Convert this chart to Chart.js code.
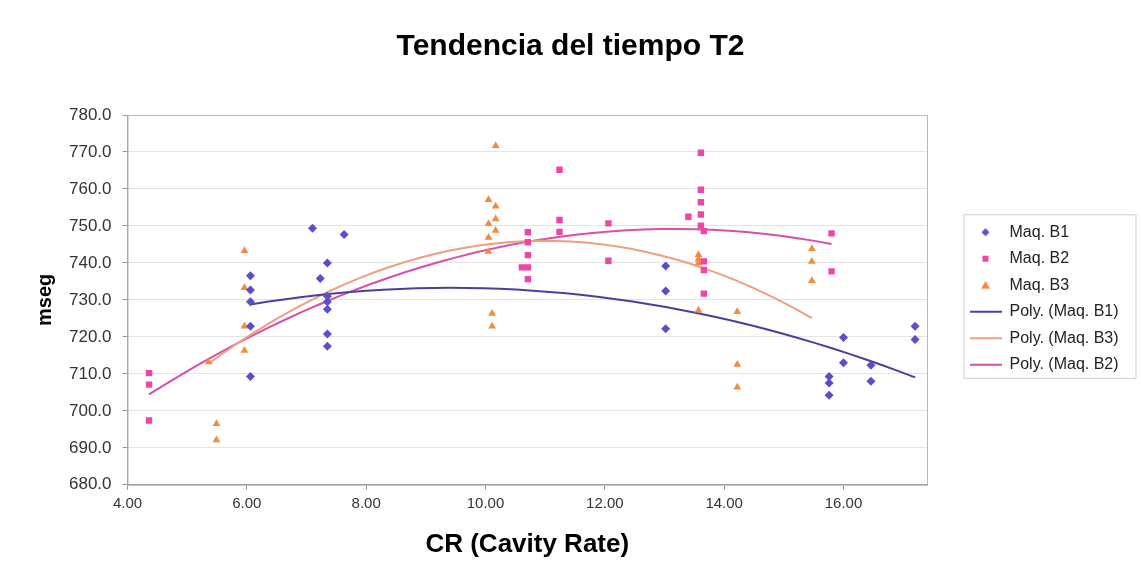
<!DOCTYPE html>
<html>
<head>
<meta charset="utf-8">
<title>Tendencia del tiempo T2</title>
<script src="https://cdn.jsdelivr.net/npm/chart.js@4.4.1/dist/chart.umd.min.js"></script>
<style>
  body { margin: 0; background: #fff; }
</style>
</head>
<body>
<canvas id="chart" width="1141" height="567"></canvas>
<script>
// values (CR -> mseg)
const b1Cr   = [6.06, 6.06, 6.06, 6.06, 6.06, 7.10, 7.63, 7.23, 7.35, 7.35, 7.35, 7.35, 7.35, 7.35,
                13.02, 13.02, 13.02, 15.76, 15.76, 15.76, 16.00, 16.00, 16.46, 16.46, 17.20, 17.20];
const b1Mseg = [736.5, 732.7, 729.5, 722.9, 709.3, 749.4, 747.7, 735.8, 740.0, 731.0, 729.5, 727.5, 720.8, 717.5,
                739.2, 732.4, 722.2, 709.3, 707.5, 704.2, 719.8, 713.0, 712.3, 708.0, 722.9, 719.3];

const b2Cr   = [4.36, 4.36, 4.36, 10.61, 10.71, 10.71, 10.71, 10.71, 10.71, 11.24, 11.24, 11.24,
                12.06, 12.06, 13.40, 13.61, 13.61, 13.61, 13.61, 13.61, 13.66, 13.66, 13.66, 13.66, 15.80, 15.80];
const b2Mseg = [710.2, 707.1, 697.4, 738.8, 748.3, 745.6, 742.1, 738.8, 735.6, 765.2, 751.6, 748.4,
                750.7, 740.6, 752.5, 769.8, 759.8, 756.4, 753.1, 750.1, 748.6, 740.4, 738.1, 731.7, 748.0, 737.7];

const b3Cr   = [5.36, 5.49, 5.49, 5.96, 5.96, 5.96, 5.96, 10.05, 10.05, 10.05, 10.05, 10.17, 10.17, 10.17, 10.17,
                10.11, 10.11, 13.57, 13.57, 13.57, 13.57, 14.22, 14.22, 14.22, 15.47, 15.47, 15.47];
const b3Mseg = [713.2, 696.5, 692.1, 743.3, 733.3, 722.9, 716.3, 757.1, 750.6, 746.9, 743.1, 771.7, 755.3, 751.9, 748.8,
                726.3, 722.9, 742.2, 741.0, 740.0, 727.2, 726.8, 712.5, 706.4, 743.8, 740.4, 735.2];

const xTicks = [4, 6, 8, 10, 12, 14, 16];
const yTicks = [680, 690, 700, 710, 720, 730, 740, 750, 760, 770, 780];

const font = "'Liberation Sans', Arial, sans-serif";

function points(xs, ys) {
  return xs.map((x, i) => ({ x: x, y: ys[i] }));
}

// 2nd order least squares, like the excel "Poly." trendline
function quadFit(xs, ys) {
  const S = [0, 0, 0, 0, 0], T = [0, 0, 0];
  xs.forEach((x, i) => {
    let p = 1;
    for (let k = 0; k < 5; k++) {
      S[k] += p;
      if (k < 3) T[k] += p * ys[i];
      p *= x;
    }
  });
  const m = [[S[0], S[1], S[2], T[0]], [S[1], S[2], S[3], T[1]], [S[2], S[3], S[4], T[2]]];
  for (let c = 0; c < 3; c++) {
    for (let r = c + 1; r < 3; r++) {
      const f = m[r][c] / m[c][c];
      for (let k = c; k < 4; k++) m[r][k] -= f * m[c][k];
    }
  }
  const coef = [0, 0, 0];
  for (let r = 2; r >= 0; r--) {
    let s = m[r][3];
    for (let k = r + 1; k < 3; k++) s -= m[r][k] * coef[k];
    coef[r] = s / m[r][r];
  }
  return coef;
}

function trend(xs, ys) {
  const c = quadFit(xs, ys);
  const lo = Math.min(...xs), hi = Math.max(...xs);
  const out = [];
  for (let i = 0; i <= 40; i++) {
    const x = lo + (hi - lo) * i / 40;
    out.push({ x: x, y: c[0] + c[1] * x + c[2] * x * x });
  }
  return out;
}

// small legend icons
function icon(draw) {
  const c = document.createElement('canvas');
  c.width = 32; c.height = 12;
  draw(c.getContext('2d'));
  return c;
}
const icons = [
  icon(g => { g.fillStyle = '#5b4ec8'; g.beginPath(); g.moveTo(16, 2); g.lineTo(20, 6); g.lineTo(16, 10); g.lineTo(12, 6); g.fill(); }),
  icon(g => { g.fillStyle = '#f044a8'; g.fillRect(13, 3, 6, 6); }),
  icon(g => { g.fillStyle = '#f5893e'; g.beginPath(); g.moveTo(16, 1.5); g.lineTo(20.5, 9.5); g.lineTo(11.5, 9.5); g.fill(); }),
  icon(g => { g.fillStyle = '#4b3f9e'; g.fillRect(0, 5, 32, 2); }),
  icon(g => { g.fillStyle = '#eda080'; g.fillRect(0, 5, 32, 2); }),
  icon(g => { g.fillStyle = '#d550a8'; g.fillRect(0, 5, 32, 2); })
];

// legend sits in a fixed strip on the right, with a thin box round it
const legendPlace = {
  id: 'legendPlace',
  beforeLayout(chart) {
    const lg = chart.legend;
    if (lg && !lg._fixed) {
      const fit = lg.fit;
      lg.fit = function () { fit.call(this); this.width = 214; };
      lg._fixed = true;
    }
  },
  afterLayout(chart) {
    const lg = chart.legend;
    lg.left += 32; lg.right += 32;
    lg.top += 15; lg.bottom += 15;
  },
  afterDraw(chart) {
    const boxes = chart.legend.legendHitBoxes;
    if (!boxes || !boxes.length) return;
    const top = Math.min(...boxes.map(b => b.top));
    const bottom = Math.max(...boxes.map(b => b.top + b.height));
    const left = Math.min(...boxes.map(b => b.left));
    const ctx = chart.ctx;
    ctx.save();
    ctx.strokeStyle = '#d0d0d0';
    ctx.lineWidth = 1;
    ctx.strokeRect(left - 5.5, top - 9.5, chart.width - 5 - (left - 5.5), bottom - top + 15);
    ctx.restore();
  }
};

const plotBorder = {
  id: 'plotBorder',
  beforeDatasetsDraw(chart) {
    const a = chart.chartArea, ctx = chart.ctx;
    ctx.save();
    ctx.strokeStyle = '#b8b8b8';
    ctx.lineWidth = 1;
    ctx.strokeRect(a.left + 0.5, a.top + 0.5, a.right - a.left, a.bottom - a.top);
    ctx.restore();
  }
};

new Chart(document.getElementById('chart'), {
  type: 'scatter',
  data: {
    datasets: [
      { label: 'Maq. B1', data: points(b1Cr, b1Mseg), pointStyle: 'rectRot', pointRadius: 4.5,
        backgroundColor: '#5b4ec8', borderColor: '#5b4ec8', borderWidth: 0 },
      { label: 'Maq. B2', data: points(b2Cr, b2Mseg), pointStyle: 'rect', pointRadius: 4.5,
        backgroundColor: '#f044a8', borderColor: '#f044a8', borderWidth: 0 },
      { label: 'Maq. B3', data: points(b3Cr, b3Mseg), pointStyle: 'triangle', pointRadius: 4.5,
        backgroundColor: '#f5893e', borderColor: '#f5893e', borderWidth: 0 },
      { label: 'Poly. (Maq. B1)', type: 'line', data: trend(b1Cr, b1Mseg), borderColor: '#4b3f9e',
        borderWidth: 2, pointRadius: 0, pointHoverRadius: 0, fill: false, tension: 0 },
      { label: 'Poly. (Maq. B3)', type: 'line', data: trend(b3Cr, b3Mseg), borderColor: '#eda080',
        borderWidth: 2, pointRadius: 0, pointHoverRadius: 0, fill: false, tension: 0 },
      { label: 'Poly. (Maq. B2)', type: 'line', data: trend(b2Cr, b2Mseg), borderColor: '#d550a8',
        borderWidth: 2, pointRadius: 0, pointHoverRadius: 0, fill: false, tension: 0 }
    ]
  },
  options: {
    responsive: false,
    animation: false,
    layout: { padding: 0 },
    plugins: {
      title: {
        display: true,
        text: 'Tendencia del tiempo T2',
        color: '#000',
        font: { family: font, size: 30, weight: 'bold' },
        padding: { top: 29, bottom: 50 }
      },
      legend: {
        position: 'right',
        labels: {
          color: '#222',
          font: { family: font, size: 16 },
          usePointStyle: true,
          pointStyleWidth: 32,
          boxHeight: 12,
          padding: 10.5,
          generateLabels(chart) {
            const items = Chart.defaults.plugins.legend.labels.generateLabels(chart);
            items.forEach(it => { it.pointStyle = icons[it.datasetIndex]; });
            return items;
          }
        }
      },
      tooltip: { enabled: false }
    },
    scales: {
      x: {
        type: 'linear',
        min: 4,
        max: 17.4,
        afterBuildTicks: s => { s.ticks = xTicks.map(v => ({ value: v })); },
        grid: { display: true, drawOnChartArea: false, tickLength: 5, color: '#999' },
        border: { color: '#999' },
        ticks: {
          color: '#333', padding: 5,
          font: { family: font, size: 15 },
          callback: v => Number(v).toFixed(2)
        },
        title: {
          display: true, text: 'CR (Cavity Rate)', color: '#000',
          font: { family: font, size: 26, weight: 'bold' },
          padding: { top: 11, bottom: 7 }
        }
      },
      y: {
        min: 680,
        max: 780,
        afterBuildTicks: s => { s.ticks = yTicks.map(v => ({ value: v })); },
        grid: { color: '#e4e4e4', tickColor: '#999', tickLength: 5 },
        border: { color: '#999' },
        ticks: {
          color: '#333', padding: 11,
          font: { family: font, size: 17 },
          callback: v => Number(v).toFixed(1)
        },
        title: {
          display: true, text: 'mseg', color: '#000',
          font: { family: font, size: 20, weight: 'bold' },
          padding: { top: 33, bottom: 1 }
        }
      }
    }
  },
  plugins: [legendPlace, plotBorder]
});
</script>
</body>
</html>
